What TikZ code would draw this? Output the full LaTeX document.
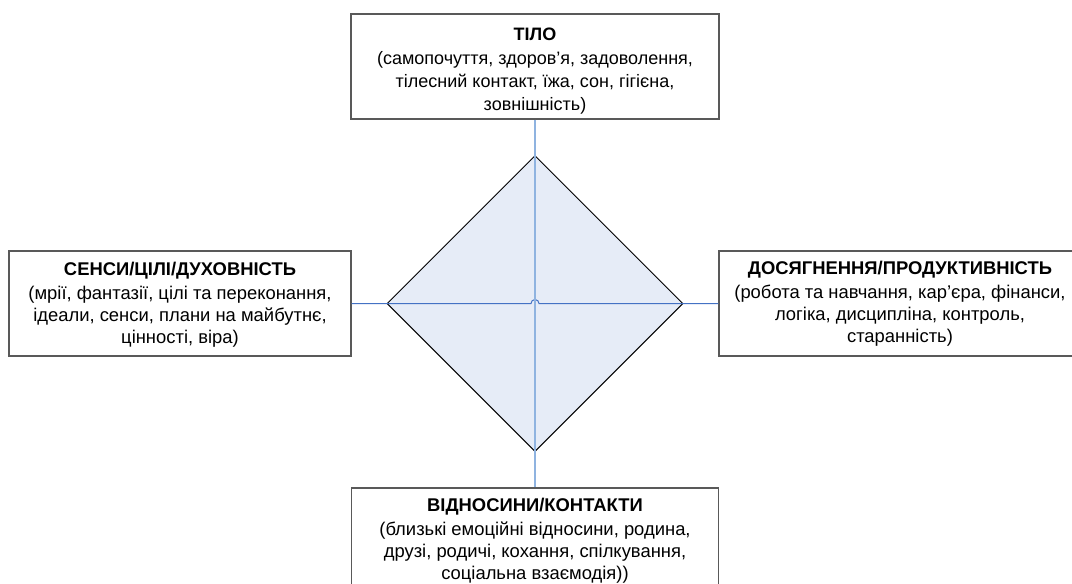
\documentclass[tikz,border=0pt]{standalone}
\usepackage{fontspec}
\setmainfont{Liberation Sans}
\usetikzlibrary{shapes.geometric}
\definecolor{frameGray}{RGB}{89, 89, 89}
\definecolor{fillBlue}{RGB}{230, 236, 247}
\definecolor{axisBlue}{RGB}{143, 179, 224}
\definecolor{lineBlue}{RGB}{68, 114, 196}

\begin{document}
\begin{tikzpicture}[x=0.75pt, y=-0.75pt,
    area/.style={draw=frameGray, line width=1.1pt, fill=white, align=center,
      inner sep=0pt, minimum height=78.75pt, font=\fontsize{13.8}{16.5}\selectfont},
    core/.style={diamond, draw=black, line width=0.75pt, fill=fillBlue,
      inner sep=0pt, minimum width=222pt, minimum height=222pt}]
      \useasboundingbox (0,0) rectangle (1072,583);
      \clip (0,0) rectangle (1072,583);
      \node[area, minimum width=276pt, font=\fontsize{13.5}{17}\selectfont] (body) at (535,66.5)
        {\rule{0pt}{16pt}\textbf{ТІЛО}\\[1.5pt](самопочуття, здоров’я, задоволення,\\тілесний контакт, їжа, сон, гігієна,\\зовнішність)};
      \node[area, minimum width=256.5pt] (meaning) at (180,303.5)
        {\rule{0pt}{12.5pt}\textbf{СЕНСИ/ЦІЛІ/ДУХОВНІСТЬ}\\[1.5pt](мрії, фантазії, цілі та переконання,\\ідеали, сенси, плани на майбутнє,\\цінності, віра)};
      \node[area, minimum width=271.5pt] (success) at (900,303.5)
        {\textbf{ДОСЯГНЕННЯ/ПРОДУКТИВНІСТЬ}\\[1.5pt](робота та навчання, кар’єра, фінанси,\\логіка, дисципліна, контроль,\\старанність)};
      \node[area, minimum width=275pt] (contacts) at (535,540.5)
        {\textbf{ВІДНОСИНИ/КОНТАКТИ}\\[1.5pt](близькі емоційні відносини, родина,\\друзі, родичі, кохання, спілкування,\\соціальна взаємодія))};
      \node[core] (centre) at (535,303.5) {};
      \draw[lineBlue, line width=0.75pt] (meaning.east) -- ([xshift=-3pt]centre.center)
        arc (180:0:3pt) -- (success.west);
      \draw[axisBlue, line width=1.2pt] (body.south) -- (contacts.north);
    \end{tikzpicture}
\end{document}
